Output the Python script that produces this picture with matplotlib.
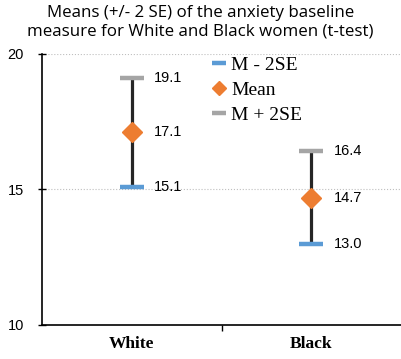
import matplotlib.pyplot as plt
from matplotlib.lines import Line2D

groups = ['White', 'Black']
low = [15.1, 13.0]
mean = [17.1, 14.7]
high = [19.1, 16.4]

blue = '#5B9BD5'
orange = '#ED7D31'
gray = '#A5A5A5'

fig = plt.figure(figsize=(4.01, 3.59), dpi=100)
ax = fig.add_axes([0.105, 0.095, 0.895, 0.755])

x = [0.5, 1.5]
ax.vlines(x, low, high, color='#262626', lw=2.3, zorder=2)
ax.plot(x, low, ls='none', marker='_', ms=17, mew=3.2, color=blue, zorder=3)
ax.plot(x, mean, ls='none', marker='D', ms=10, color=orange, zorder=4)
ax.plot(x, high, ls='none', marker='_', ms=17, mew=3.2, color=gray, zorder=3)

for xi, vals in zip(x, zip(low, mean, high)):
    for v in vals:
        ax.annotate(f'{v:.1f}', (xi, v), xytext=(16, 0), textcoords='offset points',
                    ha='left', va='center', fontsize=10.5, family='Liberation Sans')

ax.set_xlim(0, 2)
ax.set_ylim(10, 20)
ax.set_yticks([10, 15, 20])
ax.set_yticklabels(['10', '15', '20'], fontsize=10.5, family='Liberation Sans')
ax.set_xticks([1])
ax.set_xticklabels([])
for xi, g in zip(x, groups):
    ax.text(xi, -0.04, g, transform=ax.get_xaxis_transform(), ha='center', va='top',
            fontsize=12.5, fontweight='bold', family='Liberation Serif')
ax.tick_params(axis='y', direction='inout', length=6, width=1, pad=10)
ax.tick_params(axis='x', direction='out', length=4, width=1)
ax.grid(axis='y', ls=':', color='#BFBFBF', lw=0.8)
ax.spines['top'].set_visible(False)
ax.spines['right'].set_visible(False)
ax.spines['left'].set_linewidth(1.2)
ax.spines['bottom'].set_linewidth(1.2)

handles = [Line2D([], [], ls='none', marker='_', ms=10, mew=3.2, color=blue),
           Line2D([], [], ls='none', marker='D', ms=7, color=orange),
           Line2D([], [], ls='none', marker='_', ms=10, mew=3.2, color=gray)]
ax.legend(handles, ['M - 2SE', 'Mean', 'M + 2SE'], loc='upper left',
          bbox_to_anchor=(0.44, 1.04), frameon=False,
          prop={'family': 'Liberation Serif', 'size': 14}, handlelength=0.6,
          handletextpad=0.3, labelspacing=0.38, borderpad=0.2)

fig.text(0.5, 0.985, 'Means (+/- 2 SE) of the anxiety baseline\nmeasure for White and Black women (t-test)',
         ha='center', va='top', fontsize=12.2, family='Open Sans', linespacing=1.2)

fig.savefig('out.png', dpi=100)
